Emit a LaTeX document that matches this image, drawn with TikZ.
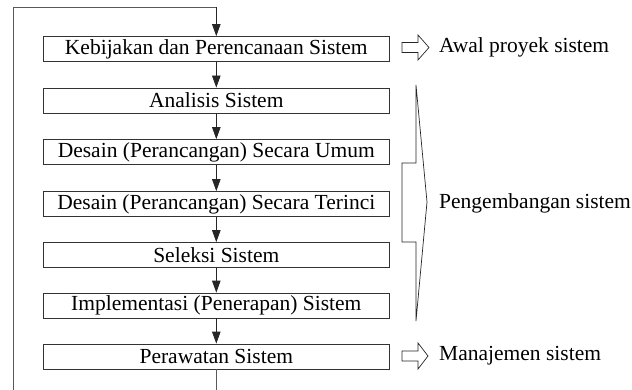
\documentclass[tikz,border=0pt]{standalone}
\usepackage{fontspec}
\setmainfont{Liberation Serif}
\usetikzlibrary{arrows.meta}
\begin{document}
\begin{tikzpicture}[x=1pt,y=-1pt,
  stage/.style={draw=black!80, line width=0.8pt, minimum width=346pt, minimum height=25pt, inner sep=0pt, font=\fontsize{21.5}{25}\selectfont},
  flow/.style={-{Triangle[length=12pt,width=8.5pt]}, line width=0.8pt, draw=black!85, fill=black},
  loopline/.style={line width=0.9pt, draw=black!65},
  sidetext/.style={anchor=west, inner sep=0pt, font=\fontsize{21.5}{25}\selectfont},
  hollow/.style={draw=black!85, line width=0.7pt, fill=white, line join=miter}]
\useasboundingbox (0,0) rectangle (632,390);
\node[stage] (s1) at (216.3,49) {Kebijakan dan Perencanaan Sistem};
\node[stage] (s2) at (216.3,100.5) {Analisis Sistem};
\node[stage] (s3) at (216.3,152) {Desain (Perancangan) Secara Umum};
\node[stage] (s4) at (216.3,204) {Desain (Perancangan) Secara Terinci};
\node[stage] (s5) at (216.3,255) {Seleksi Sistem};
\node[stage] (s6) at (216.3,305.5) {Implementasi (Penerapan) Sistem};
\node[stage] (s7) at (216.3,356.5) {Perawatan Sistem};
\coordinate (top) at (216.3,7);
\coordinate (tl) at (13,7);
\coordinate (bl) at (13,390);
\coordinate (bm) at (216.3,390);
\draw[loopline] (bl) -- (tl) -- (top);
\draw[flow] (top) -- (s1.north);
\draw[flow] (s1.south) -- (s2.north);
\draw[flow] (s2.south) -- (s3.north);
\draw[flow] (s3.south) -- (s4.north);
\draw[flow] (s4.south) -- (s5.north);
\draw[flow] (s5.south) -- (s6.north);
\draw[flow] (s6.south) -- (s7.north);
\draw[loopline] (s7.south) -- (bm);
% hollow arrows
\draw[hollow] (402,42.5) -- (418,42.5) -- (418,35) -- (429,47.5) -- (418,60) -- (418,52.5) -- (402,52.5) -- cycle;
\draw[hollow] (402,351) -- (418,351) -- (418,343) -- (428,356) -- (418,369) -- (418,361) -- (402,361) -- cycle;
% big bracket arrow
\draw[hollow] (416,85) -- (416,163) -- (402,163) -- (402,242) -- (416,242) -- (416,321) -- (427,202) -- cycle;
\node[sidetext] (t1) at (439,47.5) {Awal proyek sistem};
\node[sidetext] (t2) at (439,203) {Pengembangan sistem};
\node[sidetext] (t3) at (439,356) {Manajemen sistem};
\end{tikzpicture}
\end{document}
